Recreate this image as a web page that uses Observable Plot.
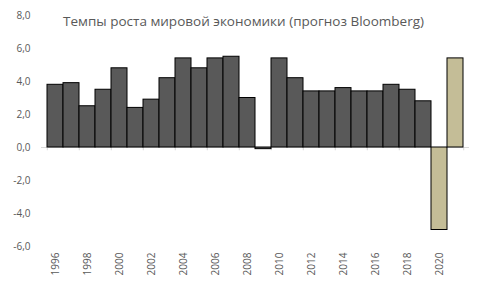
<!DOCTYPE html>
<html>
<head>
<meta charset="utf-8">
<script src="https://cdn.jsdelivr.net/npm/d3@7"></script>
<script src="https://cdn.jsdelivr.net/npm/@observablehq/plot@0.6"></script>
<style>
  html, body { margin: 0; padding: 0; background: #fff; }
</style>
</head>
<body>
<div id="chart"></div>
<script>
const years = [1996, 1997, 1998, 1999, 2000, 2001, 2002, 2003, 2004, 2005, 2006, 2007, 2008,
               2009, 2010, 2011, 2012, 2013, 2014, 2015, 2016, 2017, 2018, 2019, 2020, 2021];
const growth = [3.8, 3.9, 2.5, 3.5, 4.8, 2.4, 2.9, 4.2, 5.4, 4.8, 5.4, 5.5, 3.0,
                -0.1, 5.4, 4.2, 3.4, 3.4, 3.6, 3.4, 3.4, 3.8, 3.5, 2.8, -5.0, 5.4];
const kinds = ["факт", "факт", "факт", "факт", "факт", "факт", "факт", "факт", "факт", "факт",
               "факт", "факт", "факт", "факт", "факт", "факт", "факт", "факт", "факт", "факт",
               "факт", "факт", "факт", "факт", "прогноз", "прогноз"];
const yTicks = [-6, -4, -2, 0, 2, 4, 6, 8];
const xLabelYears = [1996, 1998, 2000, 2002, 2004, 2006, 2008, 2010, 2012, 2014, 2016, 2018, 2020];
const title = "Темпы роста мировой экономики (прогноз Bloomberg)";

const data = years.map((y, i) => ({year: y, value: growth[i], kind: kinds[i]}));

const W = 480, H = 288, mL = 41, mR = 11;
const bw = (W - mL - mR) / years.length;

const chart = Plot.plot({
  width: W,
  height: H,
  marginLeft: mL,
  marginRight: mR,
  marginTop: 15,
  marginBottom: 42,
  style: {fontFamily: "'Open Sans', sans-serif", background: "#fff", color: "#595959"},
  x: {type: "band", domain: years, padding: 0, axis: null},
  y: {domain: [-6, 8], axis: null},
  color: {domain: ["факт", "прогноз"], range: ["#595959", "#c4bd97"]},
  marks: [
    Plot.ruleY([0], {stroke: "#d9d9d9", strokeWidth: 1}),
    Plot.ruleX(xLabelYears, {x: d => d, y1: 0, y2: -0.2, dx: -bw / 2, stroke: "#d9d9d9"}),
    Plot.ruleX([years[years.length - 1]], {x: d => d, y1: 0, y2: -0.2, dx: bw / 2, stroke: "#d9d9d9"}),
    Plot.barY(data, {x: "year", y: "value", fill: "kind", stroke: "#000", strokeWidth: 1}),
    Plot.axisY({ticks: yTicks, tickSize: 0, tickPadding: 11, fontSize: 10, label: null,
                tickFormat: d => d3.format(".1f")(d).replace(".", ",").replace("−", "-")}),
    Plot.axisX({ticks: xLabelYears, tickRotate: -90, tickSize: 0, tickPadding: 6, fontSize: 10,
                label: null, tickFormat: d => String(d)}),
    Plot.text([title], {frameAnchor: "top", dx: -12, dy: 1, fontSize: 13.5, fill: "#595959"})
  ]
});
document.getElementById("chart").appendChild(chart);
</script>
</body>
</html>
